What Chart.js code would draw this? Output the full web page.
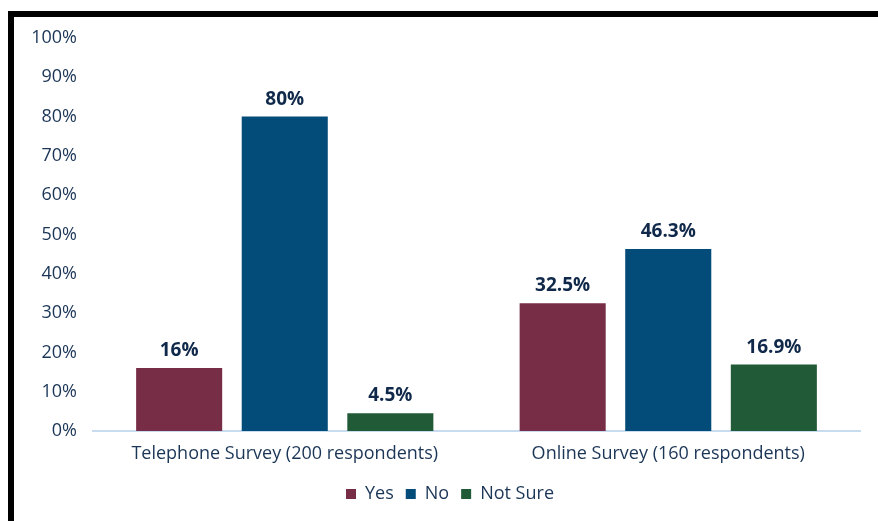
<!DOCTYPE html>
<html>
<head>
<meta charset="utf-8">
<title>Survey responses</title>
<script src="https://cdn.jsdelivr.net/npm/chart.js@4"></script>
<style>
  html, body { margin: 0; padding: 0; background: #ffffff; }
  #wrap { position: relative; width: 878px; height: 521px; overflow: hidden; }
  #chart { position: absolute; left: 0; top: 0; }
  #frame {
    position: absolute; left: 8px; top: 11px; width: 870px; height: 510px;
    box-sizing: border-box; border-top: 6px solid #000; border-left: 6px solid #000;
    pointer-events: none;
  }
</style>
</head>
<body>
<div id="wrap">
  <canvas id="chart" width="878" height="521"></canvas>
  <div id="frame"></div>
</div>
<script>
// Survey groups and answer shares (percent)
const categories = ['Telephone Survey (200 respondents)', 'Online Survey (160 respondents)'];
const seriesNames = ['Yes', 'No', 'Not Sure'];
const yesValues = [16, 32.5];
const noValues = [80, 46.3];
const notSureValues = [4.5, 16.9];
const yTicks = [0, 10, 20, 30, 40, 50, 60, 70, 80, 90, 100];

const seriesColors = ['#772d45', '#034b78', '#215a37'];
const textColor = '#1b3556';
const labelColor = '#10294a';
const fontFamily = "'Open Sans', 'Noto Sans', sans-serif";

// Value labels above each bar
const valueLabels = {
  id: 'valueLabels',
  afterDatasetsDraw(chart) {
    const ctx = chart.ctx;
    ctx.save();
    ctx.font = `bold 19px ${fontFamily}`;
    ctx.fillStyle = labelColor;
    ctx.textAlign = 'center';
    ctx.textBaseline = 'alphabetic';
    chart.data.datasets.forEach((ds, i) => {
      const meta = chart.getDatasetMeta(i);
      meta.data.forEach((bar, j) => {
        ctx.fillText(ds.data[j] + '%', bar.x, bar.y - 12);
      });
    });
    ctx.restore();
  }
};

// Nudge the legend row so it sits a little right of the canvas centre
const legendOffset = {
  id: 'legendOffset',
  afterLayout(chart) {
    if (chart.legend) {
      chart.legend.left += 20;
      chart.legend.right += 20;
    }
  }
};

new Chart(document.getElementById('chart'), {
  type: 'bar',
  data: {
    labels: categories,
    datasets: [
      { label: seriesNames[0], data: yesValues, backgroundColor: seriesColors[0] },
      { label: seriesNames[1], data: noValues, backgroundColor: seriesColors[1] },
      { label: seriesNames[2], data: notSureValues, backgroundColor: seriesColors[2] }
    ]
  },
  options: {
    responsive: false,
    animation: false,
    devicePixelRatio: 1,
    datasets: { bar: { categoryPercentage: 0.826, barPercentage: 0.815 } },
    layout: { padding: { left: 0, right: 18, top: 38, bottom: 8 } },
    scales: {
      x: {
        grid: { display: false, drawTicks: false },
        border: { display: true, color: '#c8dcef', width: 2 },
        ticks: { color: textColor, font: { family: fontFamily, size: 18 }, padding: 12 },
        afterFit(scale) { scale.height = 42; }
      },
      y: {
        min: 0, max: 100,
        afterBuildTicks(scale) { scale.ticks = yTicks.map(v => ({ value: v })); },
        grid: { display: false, drawTicks: false },
        border: { display: false },
        ticks: {
          color: textColor, font: { family: fontFamily, size: 18 }, padding: 16,
          callback: v => v + '%'
        },
        afterFit(scale) { scale.width = 93; }
      }
    },
    plugins: {
      legend: {
        position: 'bottom',
        labels: {
          color: textColor, font: { family: fontFamily, size: 18 },
          boxWidth: 10, boxHeight: 10, padding: 12
        }
      },
      tooltip: { enabled: false }
    }
  },
  plugins: [valueLabels, legendOffset]
});
</script>
</body>
</html>
